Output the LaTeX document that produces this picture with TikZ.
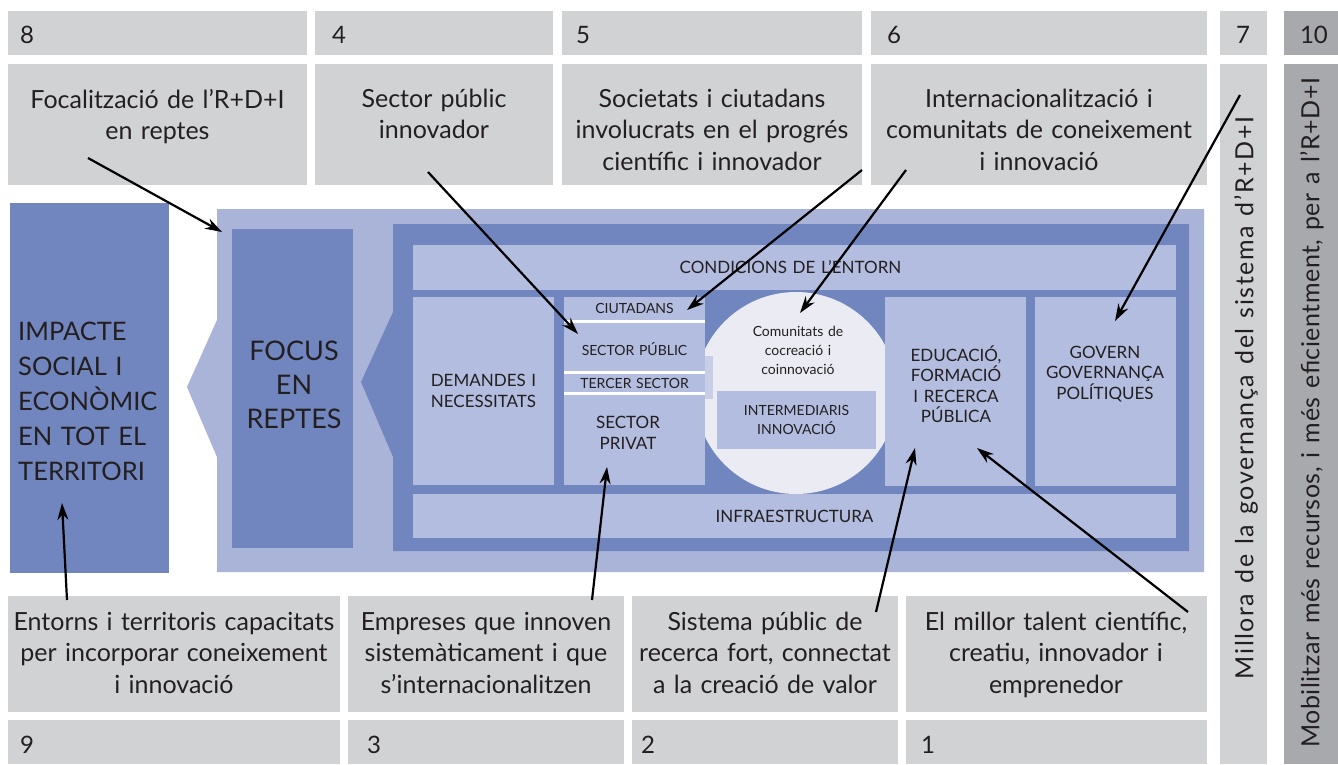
\documentclass[tikz,border=0pt]{standalone}
\usepackage{fontspec}
\setmainfont{Lato}[WordSpace=1.3]
\usetikzlibrary{arrows.meta}
\begin{document}
\begin{tikzpicture}[x=1pt,y=-1pt,
  panel/.style={rectangle,anchor=north west,inner sep=0pt,outer sep=0pt},
  grayBox/.style={panel,fill=grayFill},
  darkGrayBox/.style={panel,fill=darkGrayFill},
  blueBox/.style={panel,fill=blueFill},
  paleBox/.style={panel,fill=paleFill},
  numText/.style={text=textColor,anchor=base west,inner sep=0pt,outer sep=0pt,font=\fontsize{24}{28}\selectfont},
  goalText/.style={text=textColor,anchor=north,inner sep=0pt,outer sep=0pt,align=center,font=\fontsize{25}{31.5}\selectfont},
  capsText/.style={text=textColor,inner sep=0pt,outer sep=0pt,align=center,font=\fontsize{17}{20.5}\selectfont},
  smallCaps/.style={text=textColor,inner sep=0pt,outer sep=0pt,align=center,font=\fontsize{14}{19}\selectfont},
  arrowLine/.style={draw=black,line width=2.2pt,-{Stealth[length=17pt,width=11pt]}}]
\definecolor{grayFill}{RGB}{209,210,212}
\definecolor{darkGrayFill}{RGB}{167,169,172}
\definecolor{blueFill}{RGB}{113,134,191}
\definecolor{lightBlueFill}{RGB}{170,180,217}
\definecolor{paleFill}{RGB}{179,189,224}
\definecolor{circleFill}{RGB}{235,236,243}
\definecolor{tabFill}{RGB}{200,206,232}
\definecolor{textColor}{RGB}{35,31,32}
\path[use as bounding box,fill=white] (0,0) rectangle (1338,764);

% top row of numbers and goals
\node[grayBox,minimum width=299pt,minimum height=44pt] (num8) at (8,11) {};

\node[grayBox,minimum width=238pt,minimum height=44pt] (num4) at (315,11) {};

\node[grayBox,minimum width=300pt,minimum height=44pt] (num5) at (562,11) {};

\node[grayBox,minimum width=336pt,minimum height=44pt] (num6) at (871,11) {};

\node[grayBox,minimum width=47pt,minimum height=44pt] (num7) at (1220,11) {};

\node[darkGrayBox,minimum width=54pt,minimum height=44pt] (num10) at (1284,11) {};

\node[numText] (lab8) at (20,43) {8};

\node[numText] (lab4) at (332,43) {4};

\node[numText] (lab5) at (576,43) {5};

\node[numText] (lab6) at (887,43) {6};

\node[numText] (lab7) at (1236,43) {7};

\node[numText] (lab10) at (1300,43) {10};

\node[grayBox,minimum width=299pt,minimum height=121pt] (goal8) at (8,64) {};

\node[grayBox,minimum width=238pt,minimum height=121pt] (goal4) at (315,64) {};

\node[grayBox,minimum width=300pt,minimum height=121pt] (goal5) at (562,64) {};

\node[grayBox,minimum width=336pt,minimum height=121pt] (goal6) at (871,64) {};

\node[grayBox,minimum width=47pt,minimum height=700pt] (goal7) at (1220,64) {};

\node[darkGrayBox,minimum width=54pt,minimum height=700pt] (goal10) at (1284,64) {};

\node[goalText] (txt8) at (157.5,89) {Focalització de l’R+D+I\\en reptes};

\node[goalText] (txt4) at (434,89) {Sector públic\\innovador};

\node[goalText] (txt5) at (712,89) {Societats i ciutadans\\involucrats en el progrés\\científic i innovador};

\node[goalText] (txt6) at (1039,89) {Internacionalització i\\comunitats de coneixement\\i innovació};

\node[text=textColor,inner sep=0pt,rotate=90,font=\fontsize{25}{28}\selectfont\addfontfeatures{LetterSpace=6}] (txt7) at (1246,398) {Millora de la governança del sistema d’R+D+I};

\node[text=textColor,inner sep=0pt,rotate=90,font=\fontsize{25}{28}\selectfont\addfontfeatures{LetterSpace=2}] (txt10) at (1312,413) {Mobilitzar més recursos, i més eficientment, per a l’R+D+I};

% bottom row of goals and numbers
\node[grayBox,minimum width=332pt,minimum height=116pt] (goal9) at (8,596) {};

\node[grayBox,minimum width=276pt,minimum height=116pt] (goal3) at (348,596) {};

\node[grayBox,minimum width=266pt,minimum height=116pt] (goal2) at (632,596) {};

\node[grayBox,minimum width=301pt,minimum height=116pt] (goal1) at (906,596) {};

\node[grayBox,minimum width=332pt,minimum height=44pt] (num9) at (8,720) {};

\node[grayBox,minimum width=276pt,minimum height=44pt] (num3) at (348,720) {};

\node[grayBox,minimum width=266pt,minimum height=44pt] (num2) at (632,720) {};

\node[grayBox,minimum width=301pt,minimum height=44pt] (num1) at (906,720) {};

\node[goalText] (txt9) at (174,612) {Entorns i territoris capacitats\\per incorporar coneixement\\i innovació};

\node[goalText] (txt3) at (486,612) {Empreses que innoven\\sistemàticament i que\\s’internacionalitzen};

\node[goalText] (txt2) at (765,612) {Sistema públic de\\recerca fort, connectat\\a la creació de valor};

\node[goalText] (txt1) at (1056,612) {El millor talent científic,\\creatiu, innovador i\\emprenedor};

\node[numText] (lab9) at (20,753) {9};

\node[numText] (lab3) at (367,753) {3};

\node[numText] (lab2) at (641,753) {2};

\node[numText] (lab1) at (921,753) {1};

% central system
\node[blueBox,minimum width=159pt,minimum height=370pt] (impacte) at (10,203) {};

\node[text=textColor,anchor=north west,inner sep=0pt,align=left,font=\fontsize{25.5}{35}\selectfont] (impacteText) at (18,322) {IMPACTE\\SOCIAL I\\ECONÒMIC\\EN TOT EL\\TERRITORI};

\path[fill=lightBlueFill] (217,209) -- (1204,209) -- (1204,572) -- (217,572) -- (217,457) -- (187,387) -- (217,320) -- cycle;

\node[blueBox,minimum width=121pt,minimum height=319pt] (focus) at (232,229) {};

\node[text=textColor,inner sep=0pt,align=center,font=\fontsize{27}{34}\selectfont] (focusText) at (294,385) {FOCUS\\EN\\REPTES};

\path[fill=blueFill] (393,224) -- (1189,224) -- (1189,551) -- (393,551) -- (393,457) -- (361,382) -- (393,312) -- cycle;

\node[paleBox,minimum width=763pt,minimum height=45pt] (condicions) at (413,245) {};

\node[capsText] at ([xshift=-4pt]condicions.center) {CONDICIONS DE L’ENTORN};

\node[paleBox,minimum width=763pt,minimum height=44pt] (infra) at (413,494) {};

\node[capsText] at (infra.center) {INFRAESTRUCTURA};

\node[paleBox,minimum width=141pt,minimum height=188pt] (demandes) at (413,297) {};

\node[capsText] at (demandes.center) {DEMANDES I\\NECESSITATS};

\node[circle,fill=circleFill,inner sep=0pt,minimum size=202pt] (comunitats) at (796,393) {};

\path[fill=white] (564,297) rectangle (705,485);

\node[paleBox,minimum width=141pt,minimum height=23pt] (ciutadans) at (564,297) {};

\node[smallCaps] at (ciutadans.center) {CIUTADANS};

\node[paleBox,minimum width=141pt,minimum height=48pt] (sectorPublic) at (564,323) {};

\node[smallCaps] at ([yshift=-2pt]sectorPublic.center) {SECTOR PÚBLIC};

\node[paleBox,minimum width=141pt,minimum height=18pt] (tercerSector) at (564,374) {};

\node[smallCaps] at (tercerSector.center) {TERCER SECTOR};

\node[paleBox,minimum width=141pt,minimum height=90pt] (sectorPrivat) at (564,395) {};

\node[capsText] at (628,433) {SECTOR\\PRIVAT};

\path[fill=tabFill] (705,356) rectangle (713,399);

\node[smallCaps] at (798,350) {Comunitats de\\cocreació i\\coinnovació};

\node[paleBox,minimum width=159pt,minimum height=58pt] (intermediaris) at (717,391) {};

\node[smallCaps] at (intermediaris.center) {INTERMEDIARIS\\INNOVACIÓ};

\node[paleBox,minimum width=141pt,minimum height=189pt] (educacio) at (885,297) {};

\node[capsText] at (956,384) {EDUCACIÓ,\\FORMACIÓ\\I RECERCA\\PÚBLICA};

\node[paleBox,minimum width=141pt,minimum height=189pt] (govern) at (1035,297) {};

\node[capsText] at (1105,374) {GOVERN\\GOVERNANÇA\\POLÍTIQUES};

% arrows
\coordinate (from8) at (88,158);
\coordinate (to8) at (222,232);
\coordinate (from4) at (428,172);
\coordinate (to4) at (578,334);
\coordinate (from5) at (862,170);
\coordinate (to5) at (687,310);
\coordinate (from6) at (906,170);
\coordinate (to6) at (800,313);
\coordinate (from7) at (1240,95);
\coordinate (to7) at (1115,321);
\coordinate (from9) at (67,600);
\coordinate (to9) at (62,503);
\coordinate (from3) at (592,600);
\coordinate (to3) at (607,467);
\coordinate (from2) at (876,612);
\coordinate (to2) at (915,448);
\coordinate (from1) at (1188,612);
\coordinate (to1) at (977,448);

\draw[arrowLine] (from8) -- (to8);

\draw[arrowLine] (from4) -- (to4);

\draw[arrowLine] (from5) -- (to5);

\draw[arrowLine] (from6) -- (to6);

\draw[arrowLine] (from7) -- (to7);

\draw[arrowLine] (from9) -- (to9);

\draw[arrowLine] (from3) -- (to3);

\draw[arrowLine] (from2) -- (to2);

\draw[arrowLine] (from1) -- (to1);
\end{tikzpicture}
\end{document}
